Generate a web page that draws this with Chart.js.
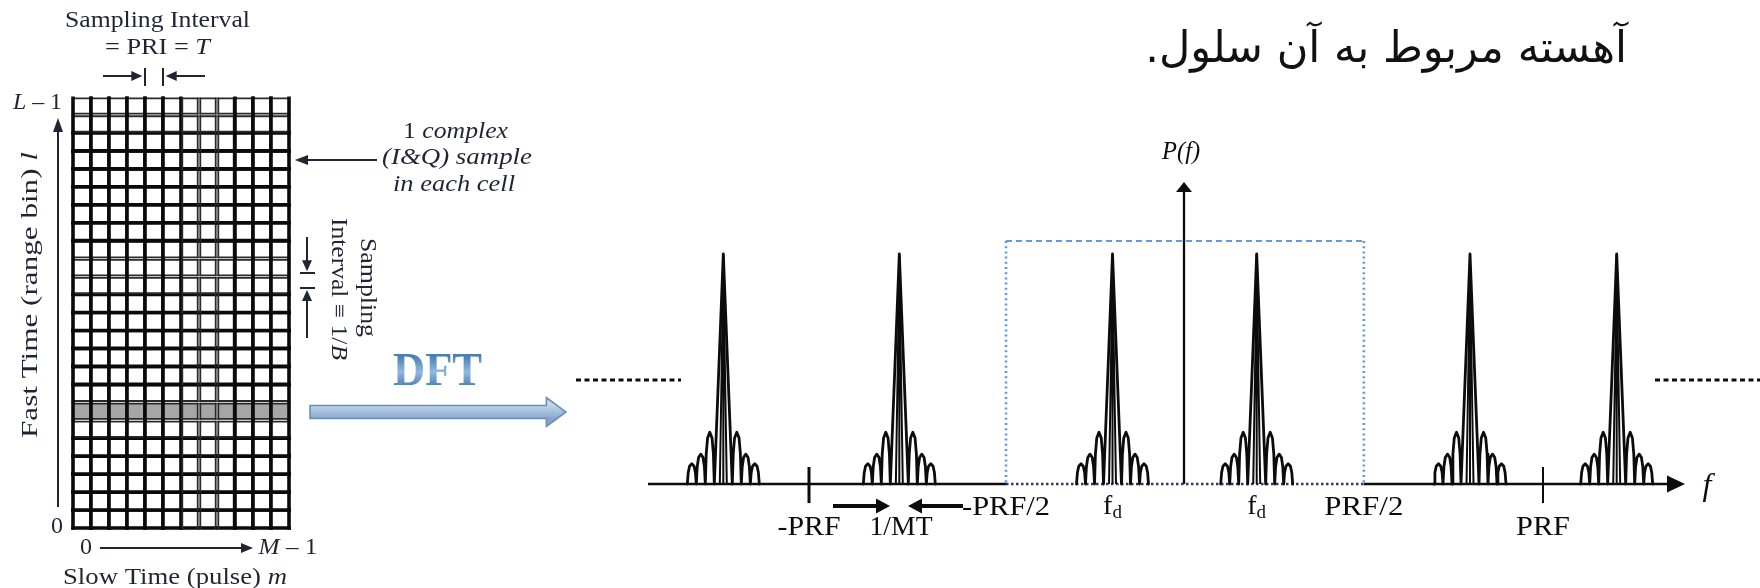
<!DOCTYPE html>
<html>
<head>
<meta charset="utf-8">
<script src="https://cdn.jsdelivr.net/npm/chart.js@4.4.1/dist/chart.umd.min.js"></script>
<style>
  html, body { margin: 0; padding: 0; background: #fff; overflow: hidden; }
  #wrap { position: relative; width: 1760px; height: 588px; }
  canvas { display: block; }
</style>
</head>
<body>
<div id="wrap"><canvas id="c" width="1760" height="588"></canvas></div>
<script>
// ---------- Doppler spectrum (frequency in units of PRF, power relative to the main lobe) ----------
const peakCenters = [-1.2553, -0.7757, -0.1948, 0.1981, 0.7793, 1.1790];
const peakHeights = [1, 1, 1, 1, 1, 1];
// one half of a spectral line: main-lobe apex, then three sidelobes out to the last null
const lobeOffsets = [0, 0.0245, 0.0270, 0.0307, 0.0368, 0.0429, 0.0466, 0.0490, 0.0515, 0.0552,
                     0.0613, 0.0674, 0.0711, 0.0736, 0.0760, 0.0797, 0.0858, 0.0920, 0.0956, 0.0981];
const lobeLevels  = [1, 0, 0.13, 0.2, 0.225, 0.2, 0.13, 0, 0.075, 0.115,
                     0.13, 0.115, 0.075, 0, 0.05, 0.077, 0.088, 0.077, 0.05, 0];
const innerOffset = 0.0095;
const innerLevel = 0.93;

// frequency markers on the axis
const tickMarks   = [-1.0218, 0.9782];
const tickLabels  = ['-PRF', 'PRF'];
const bandEdges   = [-0.485, 0.49];
const bandLabels  = ['-PRF/2', 'PRF/2'];
const bandTop     = 1.0565;
const dopplerLabelIdx = [2, 3];
const resolutionLabel = '1/MT';
const resolutionAt = -0.771;

// ---------- data matrix (slow time x fast time) ----------
const pulseCount = 12;            // M
const rangeBinCount = 24;         // L
const rowGroups = [5, 3, 5, 3, 6, 2];                 // bottom to top
const rowGroupHeavy = [true, false, true, false, true, false];
const colGroups = [6, 3, 3];
const colGroupHeavy = [true, false, true];
const shadedRangeBin = 6;

const persianLine = 'آهسته مربوط به آن سلول.';

const SERIF = '"Liberation Serif", "DejaVu Serif", serif';
const INK = '#0c0c0c';
const NAVY = '#1f2533';

// ---------- datasets ----------
const datasets = [];
peakCenters.forEach((c, i) => {
  const h = peakHeights[i];
  const pts = [];
  for (let k = lobeOffsets.length - 1; k >= 1; k--) pts.push({ x: c - lobeOffsets[k], y: h * lobeLevels[k] });
  for (let k = 0; k < lobeOffsets.length; k++) pts.push({ x: c + lobeOffsets[k], y: h * lobeLevels[k] });
  datasets.push({
    data: pts, xAxisID: 'x', yAxisID: 'y',
    borderColor: INK, borderWidth: 2.8, pointRadius: 0, tension: 0, fill: false,
    borderJoinStyle: 'round', borderCapStyle: 'round'
  });
  datasets.push({
    data: [
      { x: c - innerOffset, y: 0 }, { x: c, y: h * innerLevel }, { x: c + innerOffset, y: 0 },
      { x: c, y: null },
      { x: c, y: 0 }, { x: c, y: h }
    ],
    xAxisID: 'x', yAxisID: 'y',
    borderColor: INK, borderWidth: 2, pointRadius: 0, tension: 0, fill: false, spanGaps: false
  });
});

// ---------- drawing helpers ----------
function arrowHead(ctx, tx, ty, ang, len, half) {
  const ux = Math.cos(ang), uy = Math.sin(ang);
  const bx = tx - len * ux, by = ty - len * uy;
  ctx.beginPath();
  ctx.moveTo(tx, ty);
  ctx.lineTo(bx - half * uy, by + half * ux);
  ctx.lineTo(bx + half * uy, by - half * ux);
  ctx.closePath();
  ctx.fill();
}
function lineArrow(ctx, x0, y0, x1, y1, len, half, lw, color) {
  const ang = Math.atan2(y1 - y0, x1 - x0);
  ctx.save();
  ctx.strokeStyle = color; ctx.fillStyle = color; ctx.lineWidth = lw;
  ctx.beginPath();
  ctx.moveTo(x0, y0);
  ctx.lineTo(x1 - (len - 1) * Math.cos(ang), y1 - (len - 1) * Math.sin(ang));
  ctx.stroke();
  arrowHead(ctx, x1, y1, ang, len, half);
  ctx.restore();
}
function seg(ctx, x0, y0, x1, y1, lw, color, dash) {
  ctx.save();
  ctx.strokeStyle = color; ctx.lineWidth = lw;
  if (dash) ctx.setLineDash(dash);
  ctx.beginPath(); ctx.moveTo(x0, y0); ctx.lineTo(x1, y1); ctx.stroke();
  ctx.restore();
}
// text built from styled runs, centred on (x, y), optionally stretched to a width and rotated
function rich(ctx, runs, x, y, o) {
  const fam = o.family || SERIF;
  const fontOf = r => `${r.italic ? 'italic ' : ''}${(r.bold || o.bold) ? 'bold ' : ''}${r.size || o.size}px ${fam}`;
  let total = 0;
  const widths = runs.map(r => { ctx.font = fontOf(r); const w = ctx.measureText(r.t).width; total += w; return w; });
  const sx = o.width ? o.width / total : 1;
  ctx.save();
  ctx.translate(x, y);
  if (o.rotate) ctx.rotate(o.rotate);
  ctx.scale(sx, 1);
  ctx.textBaseline = 'middle';
  ctx.textAlign = 'left';
  ctx.fillStyle = typeof o.color === 'function' ? o.color(ctx) : (o.color || INK);
  let cx = -total / 2;
  runs.forEach((r, i) => { ctx.font = fontOf(r); ctx.fillText(r.t, cx, r.dy || 0); cx += widths[i]; });
  ctx.restore();
}

// ---------- spectrum axes, band box and labels ----------
function drawSpectrumFrame(chart) {
  const ctx = chart.ctx;
  const X = v => chart.scales.x.getPixelForValue(v);
  const Y = v => chart.scales.y.getPixelForValue(v);
  const y0 = Y(0);

  // unambiguous band (-PRF/2 .. PRF/2)
  ctx.save();
  ctx.strokeStyle = '#5f9be0';
  ctx.lineWidth = 2;
  ctx.setLineDash([6, 4]);
  ctx.beginPath(); ctx.moveTo(X(bandEdges[0]), Y(bandTop)); ctx.lineTo(X(bandEdges[1]), Y(bandTop)); ctx.stroke();
  ctx.lineWidth = 2.6;
  ctx.setLineDash([2, 3.2]);
  ctx.beginPath();
  ctx.moveTo(X(bandEdges[0]), Y(bandTop)); ctx.lineTo(X(bandEdges[0]), y0);
  ctx.moveTo(X(bandEdges[1]), Y(bandTop)); ctx.lineTo(X(bandEdges[1]), y0);
  ctx.stroke();
  ctx.restore();

  // spectrum repeats beyond the drawn span
  seg(ctx, X(-1.6567), Y(0.452), X(-1.3706), Y(0.452), 3, INK, [5, 3.5]);
  seg(ctx, X(1.2834), Y(0.452), X(1.5695), Y(0.452), 3, INK, [5, 3.5]);

  // frequency axis
  seg(ctx, X(-1.4605), y0, X(bandEdges[0]), y0, 2.3, INK);
  seg(ctx, X(bandEdges[0]), y0, X(bandEdges[1]), y0, 2.3, '#2c3e5c', [2.5, 2.5]);
  seg(ctx, X(bandEdges[1]), y0, X(1.33), y0, 2.3, INK);
  ctx.save(); ctx.fillStyle = INK; arrowHead(ctx, X(1.3651), y0, 0, 18, 8.5); ctx.restore();

  // power axis
  seg(ctx, X(0), y0, X(0), Y(1.28), 2.3, INK);
  ctx.save(); ctx.fillStyle = INK; arrowHead(ctx, X(0), Y(1.313), -Math.PI / 2, 10, 8); ctx.restore();

  // tick marks at +/- PRF
  seg(ctx, X(tickMarks[0]), Y(0.074), X(tickMarks[0]), Y(-0.083), 3, INK);
  seg(ctx, X(tickMarks[1]), Y(0.074), X(tickMarks[1]), Y(-0.083), 2, INK);
}

function drawSpectrumLabels(chart) {
  const ctx = chart.ctx;
  const X = v => chart.scales.x.getPixelForValue(v);
  const Y = v => chart.scales.y.getPixelForValue(v);
  const rowA = Y(-0.104), rowB = Y(-0.191);

  rich(ctx, [{ t: bandLabels[0] }], X(bandEdges[0]), rowA, { size: 28, width: 88 });
  rich(ctx, [{ t: bandLabels[1] }], X(bandEdges[1]), rowA, { size: 28, width: 79 });
  dopplerLabelIdx.forEach(i => {
    rich(ctx, [{ t: 'f' }, { t: 'd', size: 19, dy: 6 }], X(peakCenters[i]), rowA - 1, { size: 28 });
  });
  rich(ctx, [{ t: tickLabels[0] }], X(tickMarks[0]), rowB, { size: 28, width: 63 });
  rich(ctx, [{ t: tickLabels[1] }], X(tickMarks[1]), rowB, { size: 28, width: 54 });
  rich(ctx, [{ t: resolutionLabel }], X(resolutionAt), rowB, { size: 28, width: 63 });

  // resolution arrows pointing at 1/MT
  lineArrow(ctx, X(-0.9564), Y(-0.0957), X(-0.8011), Y(-0.0957), 14, 7.5, 3.8, INK);
  lineArrow(ctx, X(-0.6022), Y(-0.0957), X(-0.7520), Y(-0.0957), 14, 7.5, 3.8, INK);

  rich(ctx, [{ t: 'P(', italic: true }, { t: 'f', italic: true }, { t: ')', italic: true }], X(-0.008), Y(1.443), { size: 25, width: 38 });
  rich(ctx, [{ t: 'f', italic: true }], X(1.425), Y(-0.013), { size: 32 });
}

// ---------- data matrix panel ----------
function drawMatrix(chart) {
  const ctx = chart.ctx;
  const GX = v => chart.scales.xGrid.getPixelForValue(v);
  const GY = v => chart.scales.yGrid.getPixelForValue(v);

  const rowHeavy = [], colHeavy = [];
  rowGroups.forEach((n, i) => { for (let k = 0; k < n; k++) rowHeavy.push(rowGroupHeavy[i]); });
  colGroups.forEach((n, i) => { for (let k = 0; k < n; k++) colHeavy.push(colGroupHeavy[i]); });

  ctx.save();
  ctx.lineCap = 'square';
  for (let r = 0; r < rangeBinCount; r++) {
    for (let c = 0; c < pulseCount; c++) {
      const x0 = GX(c), x1 = GX(c + 1), yt = GY(r + 1), yb = GY(r);
      const gx = colHeavy[c] ? 0 : 1.3, gy = rowHeavy[r] ? 0 : 1.3;
      const hw = rowHeavy[r] ? 3.6 : 1.8, vw = colHeavy[c] ? 3.6 : 1.8;
      const l = x0 + gx, rr = x1 - gx, t = yt + gy, b = yb - gy;
      ctx.fillStyle = r === shadedRangeBin ? '#a6a6a6' : '#ffffff';
      ctx.fillRect(l, t, rr - l, b - t);
      ctx.strokeStyle = rowHeavy[r] ? '#0a0a0a' : '#2a2a2a';
      ctx.lineWidth = hw;
      ctx.beginPath(); ctx.moveTo(l, t); ctx.lineTo(rr, t); ctx.moveTo(l, b); ctx.lineTo(rr, b); ctx.stroke();
      ctx.strokeStyle = colHeavy[c] ? '#0a0a0a' : '#2a2a2a';
      ctx.lineWidth = vw;
      ctx.beginPath(); ctx.moveTo(l, t); ctx.lineTo(l, b); ctx.moveTo(rr, t); ctx.lineTo(rr, b); ctx.stroke();
    }
  }
  ctx.restore();

  // sampling interval along slow time (one column = PRI)
  rich(ctx, [{ t: 'Sampling Interval' }], GX(4.694), GY(28.232), { size: 23, width: 185, color: NAVY });
  rich(ctx, [{ t: '= PRI = ' }, { t: 'T', italic: true }], GX(4.694), GY(26.729), { size: 23, width: 105, color: NAVY });
  lineArrow(ctx, GX(1.667), GY(25.17), GX(3.85), GY(25.17), 11, 5, 2, NAVY);
  lineArrow(ctx, GX(7.333), GY(25.17), GX(5.15), GY(25.17), 11, 5, 2, NAVY);
  seg(ctx, GX(4), GY(25.615), GX(4), GY(24.613), 2, NAVY);
  seg(ctx, GX(5), GY(25.615), GX(5), GY(24.613), 2, NAVY);

  // fast-time axis
  rich(ctx, [{ t: 'L', italic: true }, { t: ' \u2013 1' }], GX(-1.972), GY(23.666), { size: 24, width: 49, color: NAVY });
  lineArrow(ctx, GX(-0.833), GY(1.17), GX(-0.833), GY(22.832), 14, 5, 2, NAVY);
  rich(ctx, [{ t: 'Fast Time (range bin) ' }, { t: 'l', italic: true }], GX(-2.333), GY(12.974),
       { size: 23, width: 286, rotate: -Math.PI / 2, color: NAVY });
  rich(ctx, [{ t: '0' }], GX(-0.889), GY(0.056), { size: 24, color: NAVY });

  // slow-time axis
  rich(ctx, [{ t: '0' }], GX(0.722), GY(-1.114), { size: 24, color: NAVY });
  lineArrow(ctx, GX(1.5), GY(-1.114), GX(10.0), GY(-1.114), 12, 5, 2, NAVY);
  rich(ctx, [{ t: 'M', italic: true }, { t: ' \u2013 1' }], GX(11.944), GY(-1.114), { size: 24, width: 59, color: NAVY });
  rich(ctx, [{ t: 'Slow Time (pulse) ' }, { t: 'm', italic: true }], GX(5.667), GY(-2.784), { size: 24, width: 224, color: NAVY });

  // cell annotation
  rich(ctx, [{ t: '1 ' }, { t: 'complex', italic: true }], GX(21.25), GY(22.051), { size: 23, width: 105, color: NAVY });
  rich(ctx, [{ t: '(I&Q) sample', italic: true }], GX(21.333), GY(20.603), { size: 23, width: 150, color: NAVY });
  rich(ctx, [{ t: 'in each cell', italic: true }], GX(21.167), GY(19.1), { size: 23, width: 122, color: NAVY });
  lineArrow(ctx, GX(16.889), GY(20.492), GX(12.333), GY(20.492), 13, 5, 1.8, NAVY);

  // sampling interval along fast time
  rich(ctx, [{ t: 'Sampling' }], GX(16.333), GY(13.392), { size: 23, width: 99, rotate: Math.PI / 2, color: NAVY });
  rich(ctx, [{ t: 'Interval \u2261 1/' }, { t: 'B', italic: true }], GX(14.722), GY(13.309),
       { size: 23, width: 142, rotate: Math.PI / 2, color: NAVY });
  lineArrow(ctx, GX(13.0), GY(16.204), GX(13.0), GY(14.3), 11, 5, 2, NAVY);
  seg(ctx, GX(12.611), GY(14.199), GX(13.444), GY(14.199), 2, NAVY);
  seg(ctx, GX(12.611), GY(13.364), GX(13.444), GY(13.364), 2, NAVY);
  lineArrow(ctx, GX(13.0), GY(10.58), GX(13.0), GY(13.26), 11, 5, 2, NAVY);

  // DFT block arrow
  const ax0 = GX(13.167), axb = GX(26.3), axt = GX(27.389), ay = GY(6.459);
  ctx.save();
  ctx.beginPath();
  ctx.moveTo(ax0, ay - 6.5);
  ctx.lineTo(axb, ay - 6.5);
  ctx.lineTo(axb, ay - 14.5);
  ctx.lineTo(axt, ay);
  ctx.lineTo(axb, ay + 14.5);
  ctx.lineTo(axb, ay + 6.5);
  ctx.lineTo(ax0, ay + 6.5);
  ctx.closePath();
  const ag = ctx.createLinearGradient(0, ay - 7, 0, ay + 7);
  ag.addColorStop(0, '#c3d6ea'); ag.addColorStop(0.5, '#a3bedb'); ag.addColorStop(1, '#86a6c9');
  ctx.fillStyle = ag;
  ctx.fill();
  ctx.strokeStyle = '#6a8fb8';
  ctx.lineWidth = 1.6;
  ctx.stroke();
  ctx.restore();
  rich(ctx, [{ t: 'DFT' }], GX(20.25), GY(8.603), {
    size: 46, bold: true, width: 89,
    color: c => { const g = c.createLinearGradient(0, -17, 0, 17); g.addColorStop(0, '#4a7fb6'); g.addColorStop(0.45, '#8fb9e2'); g.addColorStop(1, '#3e6f9f'); return g; }
  });
}

function drawHeading(chart) {
  const ctx = chart.ctx;
  const X = v => chart.scales.x.getPixelForValue(v);
  const Y = v => chart.scales.y.getPixelForValue(v);
  ctx.save();
  ctx.direction = 'rtl';
  ctx.textAlign = 'right';
  ctx.textBaseline = 'alphabetic';
  ctx.font = '40px "DejaVu Sans", sans-serif';
  const w = ctx.measureText(persianLine).width;
  const size = Math.max(30, Math.min(48, 40 * 482 / w));
  ctx.font = `${size}px "DejaVu Sans", sans-serif`;
  ctx.fillStyle = '#111';
  ctx.fillText(persianLine, X(1.207), Y(1.835));
  ctx.restore();
}

const scenePlugin = {
  id: 'scene',
  beforeDatasetsDraw(chart) { drawSpectrumFrame(chart); },
  afterDatasetsDraw(chart) {
    drawSpectrumLabels(chart);
    drawMatrix(chart);
    drawHeading(chart);
  }
};

new Chart(document.getElementById('c'), {
  type: 'line',
  data: { datasets },
  options: {
    responsive: false,
    animation: false,
    devicePixelRatio: 1,
    events: [],
    layout: { padding: 0 },
    plugins: { legend: { display: false }, tooltip: { enabled: false }, title: { display: false } },
    scales: {
      x: { type: 'linear', min: -3.22616, max: 1.56948, display: false },
      y: { type: 'linear', min: -0.45217, max: 2.10435, display: false },
      xGrid: { type: 'linear', axis: 'x', position: 'bottom', min: -4.05556, max: 93.7222, display: false },
      yGrid: { type: 'linear', axis: 'y', position: 'left', min: -3.3411, max: 29.4019, display: false }
    }
  },
  plugins: [scenePlugin]
});
</script>
</body>
</html>
